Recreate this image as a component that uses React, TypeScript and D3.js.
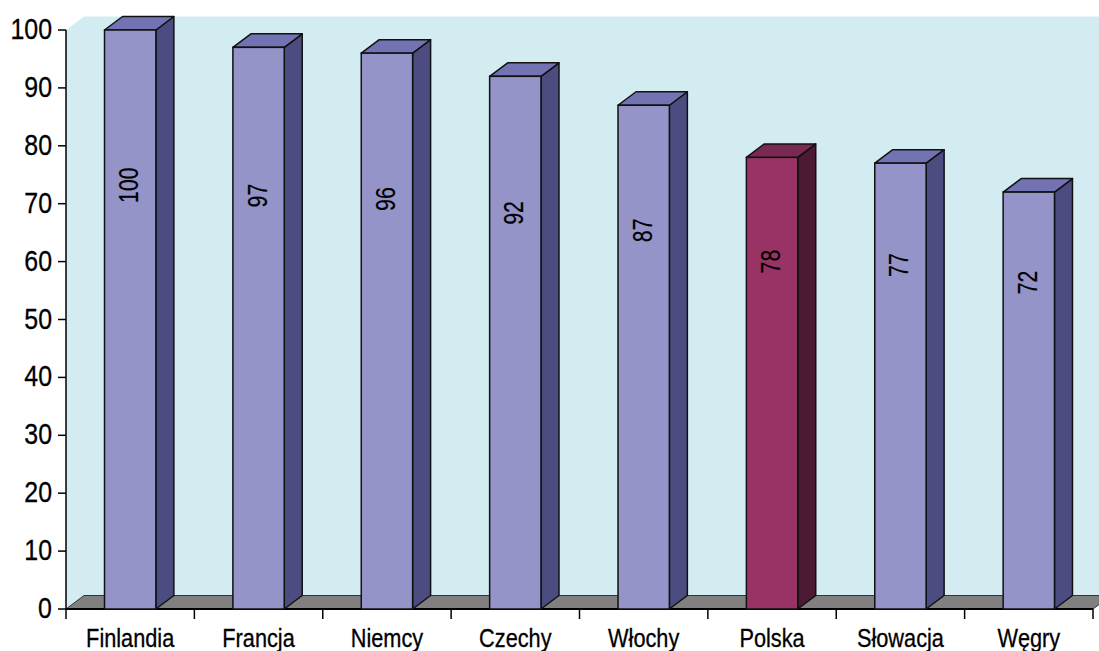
import React from 'react';
import * as d3 from 'd3';

// dane z wykresu
const categories = ['Finlandia', 'Francja', 'Niemcy', 'Czechy', 'Włochy', 'Polska', 'Słowacja', 'Węgry'];
const values = [100, 97, 96, 92, 87, 78, 77, 72];
const highlighted = ['Polska'];
const yTicks = [0, 10, 20, 30, 40, 50, 60, 70, 80, 90, 100];

const W = 1099;
const H = 651;
const DX = 18; // głębokość 3D
const DY = -13.5;
// Arial Narrow nie ma w systemie, więc zwężamy Liberation Sans transformacją
const FONT = '"Liberation Sans", Arial, sans-serif';
const NARROW = 0.82;

const normal = { front: '#9494c8', side: '#4c4c80', top: '#7373b4' };
const accent = { front: '#993366', side: '#4d1a33', top: '#7a2952' };

const App: React.FC = () => {
  const left = 66;
  const right = 1093;
  const base = 609;

  const x = d3.scaleBand<string>()
    .domain(categories)
    .range([left, right])
    .paddingInner(0.6)
    .paddingOuter(0.3);
  const y = d3.scaleLinear().domain([0, 100]).range([base, 30]);
  const tickX = d3.scaleLinear().domain([0, categories.length]).range([left, right]);

  const top = y(100) + DY;

  const wall = [
    [left, base], [left, y(100)], [left + DX, top], [W + 20, top], [W + 20, base + DY], [left + DX, base + DY]
  ].map(p => p.join(',')).join(' ');
  const floor = [
    [left, base], [left + DX, base + DY], [right + DX, base + DY], [right, base]
  ].map(p => p.join(',')).join(' ');

  return (
    <svg width={W} height={H} style={{ position: 'absolute', left: 0, top: 0, background: '#fff' }}>
      <polygon points={wall} fill="#d3ecf2" />
      <polygon points={floor} fill="#808080" stroke="#333" strokeWidth={1} />

      {/* oś Y */}
      <line x1={left} x2={left} y1={y(100)} y2={base} stroke="#000" strokeWidth={1.5} />
      {yTicks.map(t => (
        <g key={t}>
          <line x1={left - 8} x2={left} y1={y(t)} y2={y(t)} stroke="#000" strokeWidth={1.5} />
          <text transform={`translate(52,${y(t) + 9}) scale(0.86,1)`} textAnchor="end"
            fontFamily={FONT} fontSize={29} fill="#000" stroke="#000" strokeWidth={0.3}>{t}</text>
        </g>
      ))}

      {/* oś X */}
      <line x1={left} x2={right} y1={base} y2={base} stroke="#000" strokeWidth={2} />
      {d3.range(categories.length + 1).map(i => (
        <line key={i} x1={tickX(i)} x2={tickX(i)} y1={base} y2={base + 10} stroke="#000" strokeWidth={1.5} />
      ))}
      {categories.map(c => (
        <text key={c} transform={`translate(${(x(c) ?? 0) + x.bandwidth() / 2},647) scale(${NARROW},1)`}
          textAnchor="middle" fontFamily={FONT} fontSize={26.5} fill="#000" stroke="#000" strokeWidth={0.3}>{c}</text>
      ))}

      {/* słupki 3D */}
      {categories.map((c, i) => {
        const v = values[i];
        const col = highlighted.includes(c) ? accent : normal;
        const x0 = x(c) ?? 0;
        const x1 = x0 + x.bandwidth();
        const yt = y(v);
        const side = [[x1, yt], [x1 + DX, yt + DY], [x1 + DX, base + DY], [x1, base]].map(p => p.join(',')).join(' ');
        const topFace = [[x0, yt], [x0 + DX, yt + DY], [x1 + DX, yt + DY], [x1, yt]].map(p => p.join(',')).join(' ');
        const cx = (x0 + x1) / 2 - 2;
        const cy = y(v * 0.6 + 13.2);
        return (
          <g key={c}>
            <polygon points={side} fill={col.side} stroke="#111" strokeWidth={1.5} strokeLinejoin="round" />
            <polygon points={topFace} fill={col.top} stroke="#111" strokeWidth={1.5} strokeLinejoin="round" />
            <rect x={x0} y={yt} width={x1 - x0} height={base - yt} fill={col.front} stroke="#111" strokeWidth={1.5} />
            <text transform={`translate(${cx + 10},${cy}) rotate(-90) scale(0.76,1)`} textAnchor="middle"
              fontFamily={FONT} fontSize={28} fill="#000" stroke="#000" strokeWidth={0.2}>{v}</text>
          </g>
        );
      })}
    </svg>
  );
};

export default App;
